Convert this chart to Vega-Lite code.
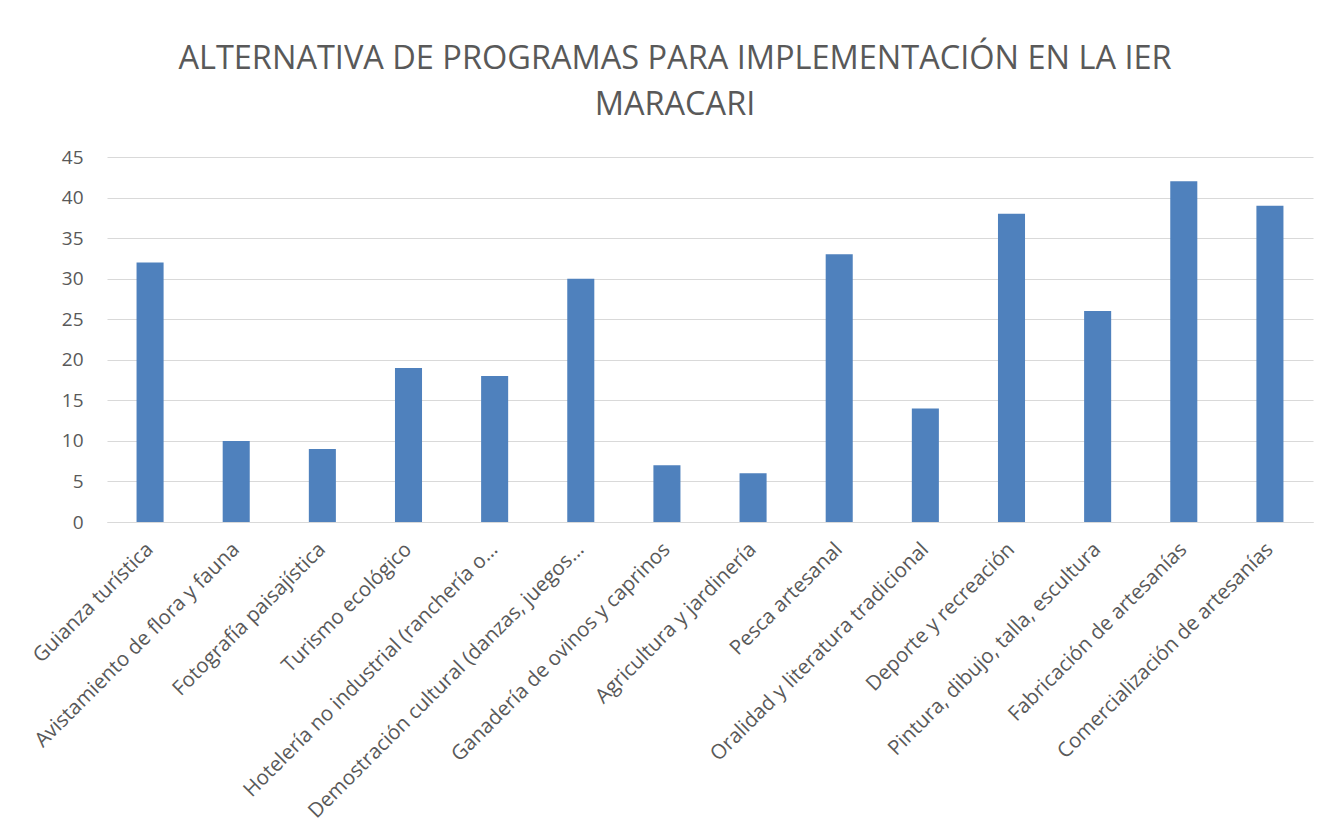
{
  "$schema": "https://vega.github.io/schema/vega-lite/v6.json",
  "autosize": "none",
  "width": 1206,
  "height": 365,
  "padding": {"left": 107, "top": 157, "right": 18, "bottom": 310},
  "background": "white",
  "title": {
    "text": ["ALTERNATIVA DE PROGRAMAS PARA IMPLEMENTACIÓN EN LA IER", "MARACARI"],
    "font": "Open Sans",
    "fontSize": 32.5,
    "fontWeight": "normal",
    "color": "#595959",
    "lineHeight": 46,
    "anchor": "middle",
    "dx": -35,
    "offset": 27
  },
  "data": {
    "values": [
      {"programa": "Guianza turística", "valor": 32},
      {"programa": "Avistamiento de flora y fauna", "valor": 10},
      {"programa": "Fotografía paisajística", "valor": 9},
      {"programa": "Turismo ecológico", "valor": 19},
      {"programa": "Hotelería no industrial (ranchería o…", "valor": 18},
      {"programa": "Demostración cultural (danzas, juegos…", "valor": 30},
      {"programa": "Ganadería de ovinos y caprinos", "valor": 7},
      {"programa": "Agricultura y jardinería", "valor": 6},
      {"programa": "Pesca artesanal", "valor": 33},
      {"programa": "Oralidad y literatura tradicional", "valor": 14},
      {"programa": "Deporte y recreación", "valor": 38},
      {"programa": "Pintura, dibujo, talla, escultura", "valor": 26},
      {"programa": "Fabricación de artesanías", "valor": 42},
      {"programa": "Comercialización de artesanías", "valor": 39}
    ]
  },
  "mark": {"type": "bar", "color": "#4F81BD"},
  "encoding": {
    "x": {
      "field": "programa",
      "type": "nominal",
      "sort": null,
      "title": null,
      "scale": {"paddingInner": 0.686, "paddingOuter": 0.343},
      "axis": {
        "labelAngle": -45,
        "labelAlign": "right",
        "labelBaseline": "middle",
        "labelFont": "Open Sans",
        "labelFontSize": 20.5,
        "labelColor": "#595959",
        "labelPadding": 24,
        "labelOffset": 0,
        "labelLimit": 600,
        "ticks": false,
        "domainColor": "#d9d9d9",
        "domainWidth": 1,
        "grid": false
      }
    },
    "y": {
      "field": "valor",
      "type": "quantitative",
      "title": null,
      "scale": {"domain": [0, 45]},
      "axis": {
        "values": [0, 5, 10, 15, 20, 25, 30, 35, 40, 45],
        "labelFont": "Open Sans",
        "labelFontSize": 19,
        "labelColor": "#595959",
        "labelPadding": 24,
        "ticks": false,
        "domain": false,
        "gridColor": "#d9d9d9",
        "gridWidth": 1
      }
    }
  },
  "config": {"view": {"stroke": null}}
}
